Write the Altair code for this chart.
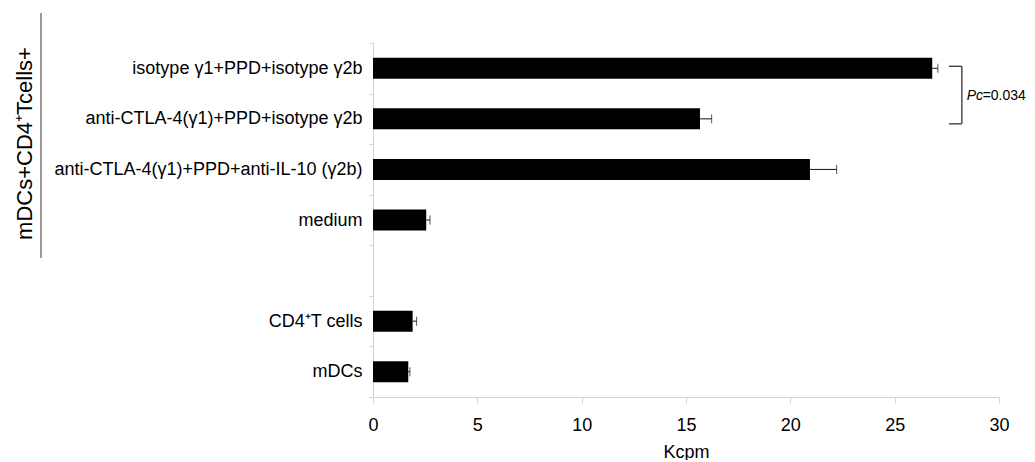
import altair as alt
import pandas as pd

# ---- data ----
labels = [
    "isotype γ1+PPD+isotype γ2b",
    "anti-CTLA-4(γ1)+PPD+isotype γ2b",
    "anti-CTLA-4(γ1)+PPD+anti-IL-10 (γ2b)",
    "medium",
    "CD4⁺T cells",
    "mDCs",
]
values = [26.8, 15.67, 20.94, 2.55, 1.9, 1.69]
errors = [0.27, 0.56, 1.28, 0.18, 0.19, 0.08]
blank_row = " "
row_order = labels[:4] + [blank_row] + labels[4:]
x_ticks = [0, 5, 10, 15, 20, 25, 30]
x_title = "Kcpm"
y_title = "mDCs+CD4⁺Tcells+"
p_italic = "Pc"
p_rest = "=0.034"
# bracket between first two rows (in Kcpm units)
bracket_left = 27.6
bracket_right = 28.22
p_text_x = 28.45

FONT = "Liberation Sans"

df = pd.DataFrame({"label": labels, "value": values, "err": errors})
df["hi"] = df["value"] + df["err"]

yscale = alt.Scale(domain=row_order, paddingInner=0, paddingOuter=0)
yaxis = alt.Axis(
    title=y_title,
    titleFontSize=22,
    titleFontWeight="normal",
    titleFont=FONT,
    titleColor="#000",
    titleAngle=270,
    titleX=-349,
    titleY=100,
    titleAlign="center",
    titleBaseline="middle",
    labelFontSize=18,
    labelFont=FONT,
    labelColor="#000",
    labelPadding=7,
    labelLimit=500,
    tickSize=4,
    tickBand="extent",
    tickColor="#d4d4d4",
    domainColor="#d4d4d4",
    grid=False,
)
yenc = alt.Y("label:N", scale=yscale, axis=yaxis, sort=row_order)

xscale = alt.Scale(domain=[0, 30], nice=False)
xaxis = alt.Axis(
    title=x_title,
    values=x_ticks,
    titleFontSize=18,
    titleFontWeight="normal",
    titleFont=FONT,
    titleColor="#000",
    titlePadding=9,
    labelFontSize=18,
    labelFont=FONT,
    labelColor="#000",
    labelPadding=13,
    labelFlush=False,
    tickSize=6,
    tickColor="#d4d4d4",
    domainColor="#d4d4d4",
    grid=False,
)

base = alt.Chart(df)
bars = base.mark_bar(color="#000", size=21).encode(
    x=alt.X("value:Q", scale=xscale, axis=xaxis),
    y=yenc,
)
err_line = base.mark_rule(color="#111", strokeWidth=1).encode(
    x="value:Q", x2="hi:Q", y=yenc
)
err_cap = base.mark_tick(color="#111", thickness=1, size=9, orient="vertical").encode(
    x="hi:Q", y=yenc
)

br = pd.DataFrame({
    "label": [labels[0], labels[1]],
    "x1": [bracket_left, bracket_left],
    "x2": [bracket_right, bracket_right],
})
br_top = alt.Chart(br.iloc[[0]]).mark_rule(color="#333", strokeWidth=1.3, yOffset=-2).encode(
    x="x1:Q", x2="x2:Q", y=yenc
)
br_bot = alt.Chart(br.iloc[[1]]).mark_rule(color="#333", strokeWidth=1.3, yOffset=5).encode(
    x="x1:Q", x2="x2:Q", y=yenc
)
brv = pd.DataFrame({"x": [bracket_right], "a": [labels[0]], "b": [labels[1]]})
br_vert = alt.Chart(brv).mark_rule(color="#333", strokeWidth=1.3, yOffset=-2, y2Offset=5).encode(
    x="x:Q", y=alt.Y("a:N", scale=yscale, axis=yaxis), y2="b:N"
)

pt = pd.DataFrame({"x": [p_text_x], "label": [labels[0]], "t1": [p_italic], "t2": [p_rest]})
txt1 = alt.Chart(pt).mark_text(
    align="left", baseline="middle", fontSize=14, font=FONT, fontStyle="italic",
    color="#000", yOffset=28,
).encode(x="x:Q", y=yenc, text="t1:N")
txt2 = alt.Chart(pt).mark_text(
    align="left", baseline="middle", fontSize=14, font=FONT,
    color="#000", yOffset=28, dx=16,
).encode(x="x:Q", y=yenc, text="t2:N")

vline = alt.Chart(pd.DataFrame({"a": [0]})).mark_rule(color="#777", strokeWidth=1.5).encode(
    x=alt.value(-332), y=alt.value(-30), y2=alt.value(215)
)

chart = alt.layer(
    bars, err_line, err_cap, br_top, br_bot, br_vert, txt1, txt2, vline
).properties(
    width=626,
    height=354,
    autosize=alt.AutoSizeParams(type="none"),
    padding={"left": 365, "top": 35, "right": 28, "bottom": 63},
).configure(font=FONT, view=alt.ViewConfig(stroke=None))

chart.save("out.html", embed_options={"renderer": "svg", "actions": False})
